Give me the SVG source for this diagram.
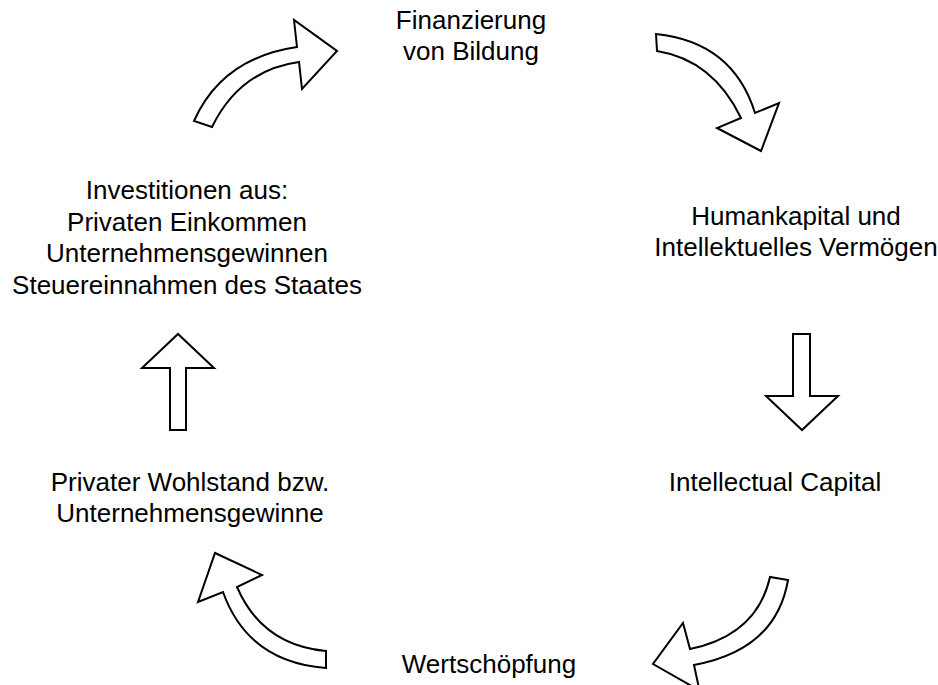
<svg xmlns="http://www.w3.org/2000/svg" width="938" height="685" viewBox="0 0 938 685">
<style>
.t{font-family:"Liberation Sans",Arial,sans-serif;font-size:26px;fill:#000;text-anchor:middle}
.a{fill:#fff;stroke:#000;stroke-width:2;stroke-linejoin:miter}
</style>
<rect width="938" height="685" fill="#fff"/>
<g id="connectors">
<path class="a" d="M194,121 Q222,58 297,47 L294,20 L337,51 L302,89 L299,62 Q240,70 212,127 Z"/>
<path class="a" d="M656,34 Q733,42 755,113 L779,103 L761,151 L717,128 L741,118 Q713,60 657,51 Z"/>
<path class="a" d="M793,334 L810,334 L810,396 L838,396 L802,430 L766,396 L793,396 Z"/>
<path class="a" d="M788,580 Q776,650 694,665 L699.5,690.5 L653,664 L683,623 L690,649 Q757,635 770,577 Z"/>
<path class="a" d="M326,668 Q248,662 223,592 L198,602 L215,553 L262,575 L237,587 Q262,645 326,651 Z"/>
<path class="a" d="M170,430 L186,430 L186,368 L214,368 L178,334 L142,368 L170,368 Z"/>
</g>
<g id="n1"><text class="t" x="471" y="29">Finanzierung</text><text class="t" x="471" y="60">von Bildung</text></g>
<g id="n2"><text class="t" x="796" y="225">Humankapital und</text><text class="t" x="796" y="256">Intellektuelles Vermögen</text></g>
<g id="n3"><text class="t" x="775" y="491">Intellectual Capital</text></g>
<g id="n4"><text class="t" x="489" y="673">Wertschöpfung</text></g>
<g id="n5"><text class="t" x="190" y="491">Privater Wohlstand bzw.</text><text class="t" x="190" y="522">Unternehmensgewinne</text></g>
<g id="n6"><text class="t" x="187" y="199">Investitionen aus:</text><text class="t" x="187" y="231">Privaten Einkommen</text><text class="t" x="187" y="262">Unternehmensgewinnen</text><text class="t" x="187" y="294">Steuereinnahmen des Staates</text></g>
</svg>
